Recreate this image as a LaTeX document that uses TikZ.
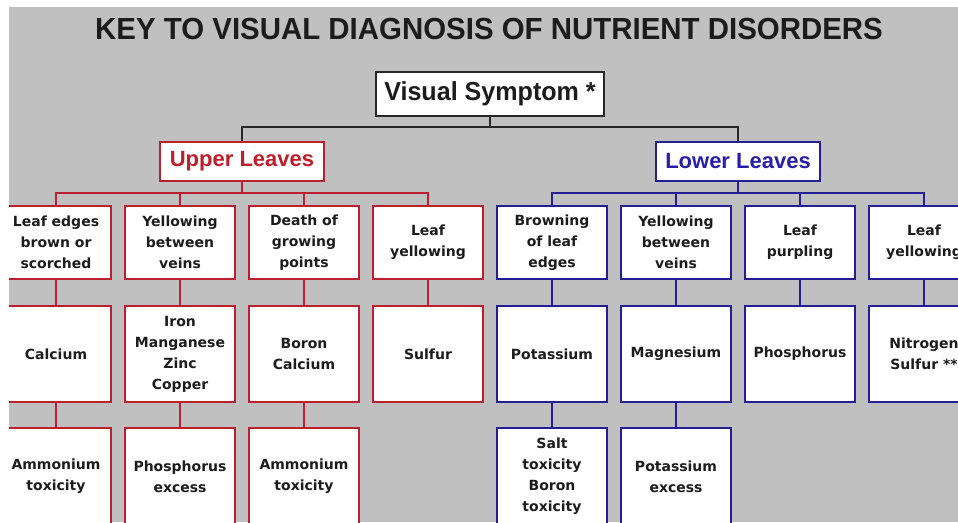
\documentclass[tikz,border=0pt]{standalone}
\usepackage{fontspec}
\setmainfont{DejaVu Sans}
\newfontfamily\boxfont{DejaVu Sans}
\newfontfamily\headfont{Liberation Sans}
\newfontfamily\titlefont{Liberation Sans}[FakeStretch=0.965]
\definecolor{bg}{RGB}{192,192,192}
\definecolor{redc}{RGB}{188,32,48}
\definecolor{redt}{RGB}{192,30,42}
\definecolor{bluec}{RGB}{36,30,150}
\definecolor{bluet}{RGB}{40,30,170}
\definecolor{txt}{RGB}{28,28,28}
\tikzset{
  box/.style={draw, fill=white, line width=2.4pt, minimum width=110pt, inner sep=0pt,
    align=center, text=txt, font=\boxfont\bfseries\fontsize{14}{21}\selectfont},
  ub/.style={box, draw=redc},
  lb/.style={box, draw=bluec},
  rowa/.style={minimum height=73pt},
  rowb/.style={minimum height=96pt},
  rowc/.style={minimum height=97pt},
  redl/.style={draw=redc, line width=2.4pt},
  bluel/.style={draw=bluec, line width=2.4pt},
  blackl/.style={draw=black!85, line width=2pt},
  head/.style={draw, fill=white, line width=2.2pt, minimum width=164pt, minimum height=39pt,
    inner sep=0pt, font=\headfont\bfseries\fontsize{22}{26}\selectfont}
}
\begin{document}
\begin{tikzpicture}[x=1pt,y=-1pt]
\useasboundingbox (0,0) rectangle (958,522);
\fill[white] (0,0) rectangle (958,522);
\fill[bg] (9,7) rectangle (958,522);
\begin{scope}
\clip (9,7) rectangle (958,522);

\node[anchor=base, text=txt, font=\titlefont\bfseries\fontsize{30.5}{36}\selectfont] (title) at (489,39)
  {KEY TO VISUAL DIAGNOSIS OF NUTRIENT DISORDERS};

\node[draw=black!85, fill=white, line width=2.2pt, minimum width=228pt, minimum height=44pt, inner sep=0pt,
  text=txt, font=\titlefont\bfseries\fontsize{26}{30}\selectfont] (vs) at (490,94) {Visual Symptom *};

\node[head, draw=redc, text=redt] (up) at (242,161.5) {Upper Leaves};
\node[head, draw=bluec, text=bluet] (lo) at (738,161.5) {Lower Leaves};

% level 2
\node[ub, rowa] (u1) at (56,242.5) {Leaf edges\\brown or\\scorched};
\node[ub, rowa] (u2) at (180,242.5) {Yellowing\\between\\veins};
\node[ub, rowa] (u3) at (304,242.5) {Death of\\growing\\points};
\node[ub, rowa] (u4) at (428,242.5) {Leaf\\yellowing};
\node[lb, rowa] (l1) at (552,242.5) {Browning\\of leaf\\edges};
\node[lb, rowa] (l2) at (676,242.5) {Yellowing\\between\\veins};
\node[lb, rowa] (l3) at (800,242.5) {Leaf\\purpling};
\node[lb, rowa] (l4) at (924,242.5) {Leaf\\yellowing};

% level 3
\node[ub, rowb] (u1b) at (56,354) {Calcium};
\node[ub, rowb] (u2b) at (180,354) {Iron\\Manganese\\Zinc\\Copper};
\node[ub, rowb] (u3b) at (304,354) {Boron\\Calcium};
\node[ub, rowb] (u4b) at (428,354) {Sulfur};
\node[lb, rowb] (l1b) at (552,354) {Potassium};
\node[lb, rowb] (l2b) at (676,354) {Magnesium};
\node[lb, rowb] (l3b) at (800,354) {Phosphorus};
\node[lb, rowb] (l4b) at (924,354) {Nitrogen\\Sulfur **};

% level 4
\node[ub, rowc] (u1c) at (56,476.5) {Ammonium\\toxicity};
\node[ub, rowc] (u2c) at (180,476.5) {Phosphorus\\excess};
\node[ub, rowc] (u3c) at (304,476.5) {Ammonium\\toxicity};
\node[lb, rowc] (l1c) at (552,476.5) {Salt\\toxicity\\Boron\\toxicity};
\node[lb, rowc] (l2c) at (676,476.5) {Potassium\\excess};

% connectors
\coordinate (j0) at (490,127);
\coordinate (ju) at (242,193);
\coordinate (jl) at (738,193);
\draw[blackl] (vs.south) -- (j0);
\draw[blackl] (up.north) |- (j0) -| (lo.north);

\draw[redl] (up.south) -- (ju);
\draw[redl] (u1.north) |- (ju) -| (u4.north);
\draw[redl] (u2.north) -- (u2.north |- ju);
\draw[redl] (u3.north) -- (u3.north |- ju);

\draw[bluel] (lo.south) -- (jl);
\draw[bluel] (l1.north) |- (jl) -| (l4.north);
\draw[bluel] (l2.north) -- (l2.north |- jl);
\draw[bluel] (l3.north) -- (l3.north |- jl);

\draw[redl] (u1.south) -- (u1b.north);
\draw[redl] (u2.south) -- (u2b.north);
\draw[redl] (u3.south) -- (u3b.north);
\draw[redl] (u4.south) -- (u4b.north);
\draw[bluel] (l1.south) -- (l1b.north);
\draw[bluel] (l2.south) -- (l2b.north);
\draw[bluel] (l3.south) -- (l3b.north);
\draw[bluel] (l4.south) -- (l4b.north);

\draw[redl] (u1b.south) -- (u1c.north);
\draw[redl] (u2b.south) -- (u2c.north);
\draw[redl] (u3b.south) -- (u3c.north);
\draw[bluel] (l1b.south) -- (l1c.north);
\draw[bluel] (l2b.south) -- (l2c.north);
\end{scope}
\end{tikzpicture}
\end{document}
